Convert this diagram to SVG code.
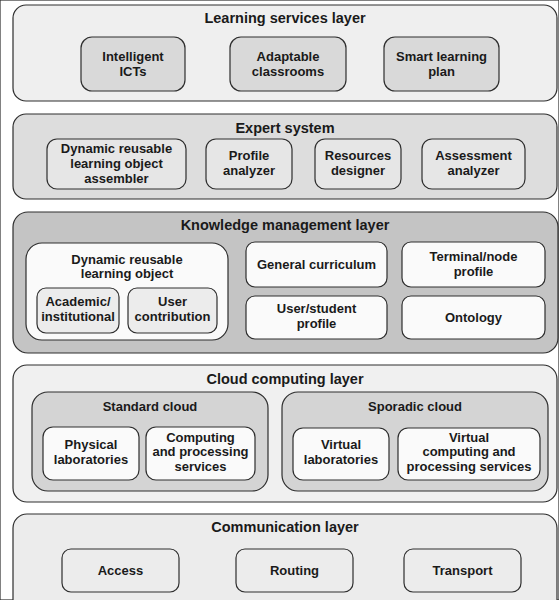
<svg xmlns="http://www.w3.org/2000/svg" width="559" height="600" viewBox="0 0 559 600">
<style>
text{font-family:"Liberation Sans",Arial,sans-serif;font-weight:bold;fill:#1a1a1a;text-anchor:middle}
.lt{font-size:14.5px}
.nt{font-size:13px}
rect{stroke:#2e2e2e;stroke-width:1.2}
.layerA{fill:#efefef}
.layerB{fill:#dddddd}
.layerC{fill:#c4c4c4}
.layerD{fill:#f0f0f0}
.layerE{fill:#ececec}
.n1{fill:#d9d9d9}
.n2{fill:#e6e6e6}
.n3{fill:#fafafa}
.n4{fill:#ececec}
.grp{fill:#d4d4d4}
</style>
<rect width="559" height="600" fill="#ffffff" stroke="none"/>

<g id="learning-services-layer">
<rect class="layerA" x="13" y="5" width="544" height="96" rx="13"/>
<text class="lt" x="285" y="23">Learning services layer</text>
</g>
<g id="intelligent-icts">
<rect class="n1" x="81" y="37" width="104" height="54" rx="11"/>
<text class="nt" x="133" y="61">Intelligent</text>
<text class="nt" x="133" y="76">ICTs</text>
</g>
<g id="adaptable-classrooms">
<rect class="n1" x="230" y="37" width="116" height="54" rx="11"/>
<text class="nt" x="288" y="61">Adaptable</text>
<text class="nt" x="288" y="76">classrooms</text>
</g>
<g id="smart-learning-plan">
<rect class="n1" x="384" y="37" width="115" height="54" rx="11"/>
<text class="nt" x="441.5" y="61">Smart learning</text>
<text class="nt" x="441.5" y="76">plan</text>
</g>

<g id="expert-system">
<rect class="layerB" x="13" y="114" width="544" height="85" rx="13"/>
<text class="lt" x="285" y="133">Expert system</text>
</g>
<g id="drlo-assembler">
<rect class="n2" x="47" y="139" width="139" height="50" rx="10"/>
<text class="nt" x="116.5" y="153">Dynamic reusable</text>
<text class="nt" x="116.5" y="168">learning object</text>
<text class="nt" x="116.5" y="183">assembler</text>
</g>
<g id="profile-analyzer">
<rect class="n2" x="206" y="139" width="86" height="50" rx="10"/>
<text class="nt" x="249" y="160">Profile</text>
<text class="nt" x="249" y="175">analyzer</text>
</g>
<g id="resources-designer">
<rect class="n2" x="315" y="139" width="86" height="50" rx="10"/>
<text class="nt" x="358" y="160">Resources</text>
<text class="nt" x="358" y="175">designer</text>
</g>
<g id="assessment-analyzer">
<rect class="n2" x="422" y="139" width="103" height="50" rx="10"/>
<text class="nt" x="473.5" y="160">Assessment</text>
<text class="nt" x="473.5" y="175">analyzer</text>
</g>

<g id="knowledge-management-layer">
<rect class="layerC" x="13" y="212" width="545" height="141" rx="15"/>
<text class="lt" x="285" y="230">Knowledge management layer</text>
</g>
<g id="drlo">
<rect class="n3" x="26" y="243" width="202" height="97" rx="16"/>
<text class="nt" x="127" y="264">Dynamic reusable</text>
<text class="nt" x="127" y="278">learning object</text>
</g>
<g id="academic-institutional">
<rect class="n4" x="37" y="288" width="82" height="45" rx="9"/>
<text class="nt" x="78" y="306">Academic/</text>
<text class="nt" x="78" y="321">institutional</text>
</g>
<g id="user-contribution">
<rect class="n4" x="128" y="288" width="89" height="45" rx="9"/>
<text class="nt" x="172.5" y="306">User</text>
<text class="nt" x="172.5" y="321">contribution</text>
</g>
<g id="general-curriculum">
<rect class="n3" x="246" y="242" width="141" height="45" rx="9"/>
<text class="nt" x="316.5" y="269">General curriculum</text>
</g>
<g id="terminal-node-profile">
<rect class="n3" x="402" y="242" width="143" height="45" rx="9"/>
<text class="nt" x="473.5" y="261">Terminal/node</text>
<text class="nt" x="473.5" y="276">profile</text>
</g>
<g id="user-student-profile">
<rect class="n3" x="246" y="296" width="141" height="43" rx="9"/>
<text class="nt" x="316.5" y="313">User/student</text>
<text class="nt" x="316.5" y="328">profile</text>
</g>
<g id="ontology">
<rect class="n3" x="402" y="296" width="143" height="43" rx="9"/>
<text class="nt" x="473.5" y="322">Ontology</text>
</g>

<g id="cloud-computing-layer">
<rect class="layerD" x="13" y="365" width="544" height="137" rx="14"/>
<text class="lt" x="285" y="384">Cloud computing layer</text>
</g>
<g id="standard-cloud">
<rect class="grp" x="32" y="392" width="236" height="99" rx="16"/>
<text class="nt" x="150" y="411">Standard cloud</text>
</g>
<g id="physical-laboratories">
<rect class="n3" x="43" y="427" width="96" height="53" rx="10"/>
<text class="nt" x="91" y="449">Physical</text>
<text class="nt" x="91" y="464">laboratories</text>
</g>
<g id="computing-processing-services">
<rect class="n3" x="146" y="427" width="109" height="53" rx="10"/>
<text class="nt" x="200.5" y="442">Computing</text>
<text class="nt" x="200.5" y="456">and processing</text>
<text class="nt" x="200.5" y="471">services</text>
</g>
<g id="sporadic-cloud">
<rect class="grp" x="282" y="392" width="266" height="99" rx="16"/>
<text class="nt" x="415" y="411">Sporadic cloud</text>
</g>
<g id="virtual-laboratories">
<rect class="n3" x="293" y="428" width="96" height="52" rx="10"/>
<text class="nt" x="341" y="449">Virtual</text>
<text class="nt" x="341" y="464">laboratories</text>
</g>
<g id="virtual-computing-processing-services">
<rect class="n3" x="398" y="428" width="142" height="52" rx="10"/>
<text class="nt" x="469" y="442">Virtual</text>
<text class="nt" x="469" y="456">computing and</text>
<text class="nt" x="469" y="471">processing services</text>
</g>

<g id="communication-layer">
<rect class="layerE" x="13" y="514" width="544" height="100" rx="14"/>
<text class="lt" x="285" y="532">Communication layer</text>
</g>
<g id="access">
<rect class="n4" x="62" y="549" width="117" height="43" rx="9"/>
<text class="nt" x="120.5" y="575">Access</text>
</g>
<g id="routing">
<rect class="n4" x="236" y="549" width="117" height="43" rx="9"/>
<text class="nt" x="294.5" y="575">Routing</text>
</g>
<g id="transport">
<rect class="n4" x="404" y="549" width="117" height="43" rx="9"/>
<text class="nt" x="462.5" y="575">Transport</text>
</g>

<g id="connectors"/>
</svg>
